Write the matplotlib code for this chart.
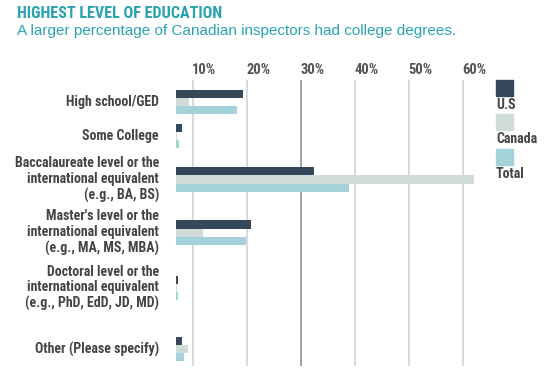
import matplotlib
matplotlib.use("Agg")
import matplotlib.pyplot as plt
from matplotlib.patches import Rectangle

categories = ["High school/GED", "Some College",
              "Baccalaureate level or the\ninternational equivalent\n(e.g., BA, BS)",
              "Master's level or the\ninternational equivalent\n(e.g., MA, MS, MBA)",
              "Doctoral level or the\ninternational equivalent\n(e.g., PhD, EdD, JD, MD)",
              "Other (Please specify)"]
us = [19.3, 8.0, 32.4, 20.7, 7.2, 7.9]
canada = [9.2, 7.05, 61.9, 11.8, 7.0, 9.0]
total = [18.1, 7.4, 38.9, 19.8, 7.2, 8.3]
ticks = [10, 20, 30, 40, 50, 60]
series_names = ["U.S", "Canada", "Total"]

cond = "Roboto Condensed"
colors = ["#34485a", "#cfdcd8", "#a3d3d9"]
teal = "#2aa3b1"

fig = plt.figure(figsize=(5.44, 3.90), dpi=100)
W, H = 544, 390
# plot area in pixels: x 176..490, y 80..366
ax = fig.add_axes([176 / W, 1 - 366 / H, (490 - 176) / W, (366 - 80) / H])
ax.set_xlim(6.86, 64.9)
ax.set_ylim(366, 80)
for s in ax.spines.values():
    s.set_visible(False)
ax.set_yticks([])
ax.set_xticks([])

centers = [102, 136, 179.5, 232.7, 288, 349]
bh = 8.2
for t in ticks:
    ax.axvline(t, color="#9a9a9a" if t == 30 else "#d6d6d6", lw=1.3, zorder=0)
    ax.text(t - 0.2, 70, f"{t}%", ha="left", va="center",
            fontsize=10.5, fontweight="bold", color="#555555", family=cond,
            clip_on=False)

for i, vals in enumerate([us, canada, total]):
    ys = [c + (i - 1) * bh for c in centers]
    ax.barh(ys, vals, height=bh, color=colors[i], zorder=2)

for c, lab in zip(centers, categories):
    ax.text(159, H - c, lab, transform=None, ha="right", va="center",
            fontsize=10, fontweight="bold", color="#444444", family=cond,
            linespacing=1.15)

fig.text(17 / W, 1 - 13 / H, "HIGHEST LEVEL OF EDUCATION", ha="left", va="center",
         fontsize=11.6, fontweight="bold", color=teal, family=cond)
fig.text(17 / W, 1 - 31 / H, "A larger percentage of Canadian inspectors had college degrees.",
         ha="left", va="center", fontsize=11, color=teal, family="Liberation Sans")

# legend
leg_y = [80, 114, 149]
for name, col, y in zip(series_names, colors, leg_y):
    fig.patches.append(Rectangle((496 / W, 1 - (y + 16) / H), 17 / W, 16 / H,
                                 transform=fig.transFigure, color=col))
    fig.text(496 / W, 1 - (y + 25) / H, name, ha="left", va="center",
             fontsize=10, fontweight="bold", color="#444444", family=cond)

fig.savefig("out.png", dpi=100)
